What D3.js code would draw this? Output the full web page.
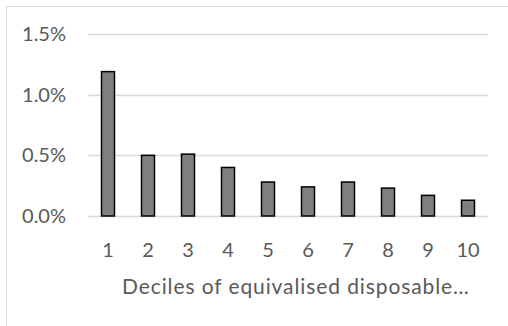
<!DOCTYPE html>
<html><head><meta charset="utf-8">
<script src="https://cdn.jsdelivr.net/npm/d3@7"></script>
<style>body{margin:0;background:#fff}svg{display:block}text{font-family:Lato,"Open Sans",sans-serif;fill:#595959}</style>
</head><body>
<script>
const categories = ["1","2","3","4","5","6","7","8","9","10"];
const values = [1.19, 0.50, 0.51, 0.40, 0.28, 0.24, 0.28, 0.23, 0.17, 0.13];
const yTicks = [0, 0.5, 1.0, 1.5];
const xTitle = "Deciles of equivalised disposable…";

const W = 508, H = 326;
const svg = d3.select("body").append("svg").attr("width", W).attr("height", H);
svg.append("rect").attr("x",6.5).attr("y",6.5).attr("width",W).attr("height",H)
  .attr("fill","#fff").attr("stroke","#d9d9d9").attr("stroke-width",1);

const x = d3.scaleBand().domain(categories).range([88,488]).paddingInner(0.675).paddingOuter(0.3375);
const y = d3.scaleLinear().domain([0,1.5]).range([216,34]);

svg.append("g").selectAll("line").data(yTicks).join("line")
  .attr("x1",88).attr("x2",488).attr("y1",d=>Math.round(y(d))+0.5).attr("y2",d=>Math.round(y(d))+0.5)
  .attr("stroke","#d9d9d9").attr("stroke-width",1.5);

svg.append("g").selectAll("text").data(yTicks).join("text")
  .attr("x",66).attr("y",d=>y(d)).attr("dy","0.35em").attr("text-anchor","end")
  .attr("font-size",20).text(d=>d.toFixed(1)+"%");

svg.append("g").selectAll("rect").data(values).join("rect")
  .attr("x",(d,i)=>x(categories[i])).attr("width",x.bandwidth())
  .attr("y",d=>y(d)).attr("height",d=>y(0)-y(d))
  .attr("fill","#7f7f7f").attr("stroke","#000").attr("stroke-width",1.5);

svg.append("g").selectAll("text").data(categories).join("text")
  .attr("x",d=>x(d)+x.bandwidth()/2).attr("y",250).attr("dy","0.35em").attr("text-anchor","middle")
  .attr("font-size",20).text(d=>d);

svg.append("text").attr("x",122).attr("y",287).attr("dy","0.35em").attr("font-size",21)
  .attr("letter-spacing",0.9).text(xTitle);
</script>
</body></html>
